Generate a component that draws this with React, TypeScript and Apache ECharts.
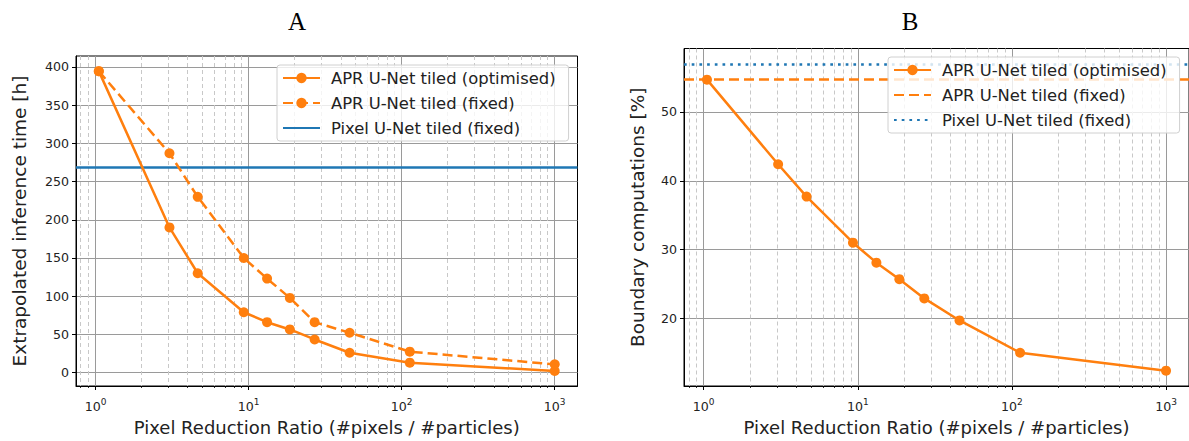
import React, { useEffect, useRef } from "react";
import * as echarts from "echarts";

// Pixel reduction ratio for each tiling configuration
const ratio = [1.05, 3.04, 4.65, 9.3, 13.2, 18.6, 27, 45.7, 113, 1000];

// Panel A: extrapolated inference time [h]
const timeOptimised = [394.5, 190, 130, 79, 66, 56.5, 43.4, 26, 13, 2.1];
const timeFixed = [394.5, 287, 230, 150, 123, 97.8, 66, 52.2, 27.4, 10.8];
const timePixel = 269;

// Panel B: boundary computations [%]
const boundaryOptimised = [54.7, 42.4, 37.7, 31.0, 28.1, 25.7, 22.9, 19.7, 15.0, 12.4];
const boundaryFixed = 54.7;
const boundaryPixel = 57.0;

// Tick positions
const decadeTicks = [1, 10, 100, 1000];
const minorTicks = [
  0.8, 0.9, 2, 3, 4, 5, 6, 7, 8, 9, 20, 30, 40, 50, 60, 70, 80, 90, 200, 300, 400, 500, 600, 700, 800, 900,
];
const timeTicks = [0, 50, 100, 150, 200, 250, 300, 350, 400];
const boundaryTicks = [20, 30, 40, 50];

const seriesNames = ["APR U-Net tiled (optimised)", "APR U-Net tiled (fixed)", "Pixel U-Net tiled (fixed)"];
// the second panel uses its own legend entries, told apart by a trailing space
const seriesNamesB = seriesNames.map((n) => n + " ");

const ORANGE = "#ff7f0e";
const BLUE = "#1f77b4";
const FONT = "'DejaVu Sans', sans-serif";
const TEXT = "#222";
const X_MIN = 0.745;
const X_MAX = 1409;

function pairs(ys: number[]) {
  return ratio.map((x, i) => [x, ys[i]]);
}

function xAxes(gridIndex: number) {
  const major = {
    type: "log",
    logBase: 10,
    gridIndex,
    position: "bottom",
    min: X_MIN,
    max: X_MAX,
    name: "Pixel Reduction Ratio (#pixels / #particles)",
    nameLocation: "middle",
    nameGap: 32,
    nameTextStyle: { fontFamily: FONT, fontSize: 18, color: TEXT },
    axisLine: { show: true, onZero: false, lineStyle: { color: "#000", width: 1 } },
    axisTick: { show: true, customValues: decadeTicks, length: 4, lineStyle: { color: "#000", width: 1 } },
    axisLabel: {
      customValues: decadeTicks,
      margin: 11,
      formatter: (v: number) => `{b|10}{e|${Math.round(Math.log10(v))}}`,
      rich: {
        b: { fontFamily: FONT, fontSize: 12.6, color: TEXT },
        e: { fontFamily: FONT, fontSize: 9, color: TEXT, padding: [0, 0, 10, 0] },
      },
    },
    splitLine: { show: true, lineStyle: { color: "#9a9a9a", width: 1 } },
  };
  const minor = {
    type: "log",
    logBase: 10,
    gridIndex,
    position: "bottom",
    min: X_MIN,
    max: X_MAX,
    axisLine: { show: false, onZero: false },
    axisTick: { show: true, customValues: minorTicks, length: 2, lineStyle: { color: "#000", width: 0.8 } },
    axisLabel: { show: false },
    splitLine: { show: true, lineStyle: { color: "#c8c8c8", width: 1, type: [4, 3] } },
  };
  return [major, minor];
}

function yAxis(gridIndex: number, min: number, max: number, ticks: number[], name: string, nameGap: number) {
  return {
    type: "value",
    gridIndex,
    min,
    max,
    name,
    nameLocation: "middle",
    nameGap,
    nameTextStyle: { fontFamily: FONT, fontSize: 18.5, color: TEXT },
    axisLine: { show: true, onZero: false, lineStyle: { color: "#000", width: 1 } },
    axisTick: { show: true, customValues: ticks, length: 4, lineStyle: { color: "#000", width: 1 } },
    axisLabel: { customValues: ticks, margin: 7, fontFamily: FONT, fontSize: 12.6, color: TEXT },
    splitLine: { show: true, lineStyle: { color: "#9a9a9a", width: 1 } },
  };
}

function hLine(name: string, xAxisIndex: number, yAxisIndex: number, value: number, color: string, type: any, width: number) {
  return {
    name,
    type: "line",
    xAxisIndex,
    yAxisIndex,
    data: [],
    symbol: "none",
    color,
    lineStyle: { color, width, type },
    markLine: {
      silent: true,
      symbol: ["none", "none"],
      label: { show: false },
      lineStyle: { color, width, type, cap: "butt" },
      data: [{ yAxis: value }],
    },
  };
}

// entries listed in `plain` are drawn with a line only, no marker
function legend(names: string[], plain: number[], left: number, top: number) {
  return {
    data: names.map((name, i) => (plain.includes(i) ? { name, itemStyle: { opacity: 0 } } : { name })),
    orient: "vertical",
    left,
    top,
    z: 20,
    itemWidth: 37,
    itemHeight: 13,
    itemGap: 9,
    padding: [5, 13, 5, 5],
    formatter: (n: string) => n.trim(),
    textStyle: { fontFamily: FONT, fontSize: 16.4, color: TEXT, padding: [0, 0, 0, 6] },
    backgroundColor: "rgba(255,255,255,0.8)",
    borderColor: "#d0d0d0",
    borderWidth: 1,
    borderRadius: 3,
  };
}

const option = {
  animation: false,
  backgroundColor: "#fff",
  graphic: [
    { type: "text", x: 297, y: 21, style: { text: "A", font: "25px 'Liberation Serif', serif", fill: "#000", align: "center", verticalAlign: "middle" } },
    { type: "text", x: 910, y: 21, style: { text: "B", font: "25px 'Liberation Serif', serif", fill: "#000", align: "center", verticalAlign: "middle" } },
  ],
  grid: [
    { left: 76, top: 56, width: 501.5, height: 331, show: true, borderColor: "#000", borderWidth: 1, backgroundColor: "transparent" },
    { left: 684, top: 48.5, width: 509, height: 338.2, show: true, borderColor: "#000", borderWidth: 1, backgroundColor: "transparent" },
  ],
  xAxis: [...xAxes(0), ...xAxes(1)],
  yAxis: [
    yAxis(0, -17.5, 414.3, timeTicks, "Extrapolated inference time [h]", 47),
    yAxis(1, 10.17, 59.23, boundaryTicks, "Boundary computations [%]", 37.5),
  ],
  legend: [legend(seriesNames, [2], 277, 65), legend(seriesNamesB, [1, 2], 888, 57)],
  series: [
    {
      name: seriesNames[0],
      type: "line",
      xAxisIndex: 0,
      yAxisIndex: 0,
      data: pairs(timeOptimised),
      color: ORANGE,
      symbol: "circle",
      symbolSize: 10,
      lineStyle: { color: ORANGE, width: 2.5 },
      z: 5,
    },
    {
      name: seriesNames[1],
      type: "line",
      xAxisIndex: 0,
      yAxisIndex: 0,
      data: pairs(timeFixed),
      color: ORANGE,
      symbol: "circle",
      symbolSize: 10,
      lineStyle: { color: ORANGE, width: 2.5, type: [10, 5] },
      z: 5,
    },
    hLine(seriesNames[2], 0, 0, timePixel, BLUE, "solid", 2.5),
    {
      name: seriesNamesB[0],
      type: "line",
      xAxisIndex: 2,
      yAxisIndex: 1,
      data: pairs(boundaryOptimised),
      color: ORANGE,
      symbol: "circle",
      symbolSize: 10,
      lineStyle: { color: ORANGE, width: 2.5 },
      z: 5,
    },
    hLine(seriesNamesB[1], 2, 1, boundaryFixed, ORANGE, [10, 5], 2.5),
    hLine(seriesNamesB[2], 2, 1, boundaryPixel, BLUE, [2.7, 5], 2.7),
  ],
};

export default function App() {
  const ref = useRef<HTMLDivElement>(null);
  useEffect(() => {
    const chart = echarts.init(ref.current!, null, { renderer: "svg" });
    chart.setOption(option as any);
    return () => chart.dispose();
  }, []);
  return (
    <div
      ref={ref}
      style={{ position: "fixed", left: 0, top: 0, width: 1189, height: 441, background: "#fff" }}
    />
  );
}
